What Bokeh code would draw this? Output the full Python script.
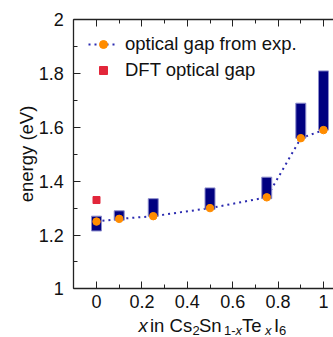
import math
from bokeh.plotting import figure
from bokeh.models import (ColumnDataSource, Range1d, LinearAxis, FixedTicker,
                          Legend, LegendItem, Label)
from bokeh.embed import file_html
from bokeh.resources import INLINE

# ---- data ----
x_comp = [0.0, 0.1, 0.25, 0.5, 0.75, 0.9, 1.0]
exp_gap = [1.25, 1.26, 1.27, 1.30, 1.34, 1.56, 1.59]
bar_bottom = [1.215, 1.255, 1.27, 1.295, 1.335, 1.56, 1.59]
bar_top = [1.27, 1.29, 1.335, 1.375, 1.415, 1.69, 1.81]
dft_x = [0.0]
dft_gap = [1.33]

x_ticks = [0.0, 0.2, 0.4, 0.6, 0.8, 1.0]
x_tick_labels = ["0", "0.2", "0.4", "0.6", "0.8", "1"]
x_minor = [-0.1, 0.1, 0.3, 0.5, 0.7, 0.9]
y_ticks = [1.0, 1.2, 1.4, 1.6, 1.8, 2.0]
y_tick_labels = ["1", "1.2", "1.4", "1.6", "1.8", "2"]
y_minor = [1.1, 1.3, 1.5, 1.7, 1.9]
x_lo, x_hi = -0.1, 1.1
y_lo, y_hi = 1.0, 2.0

FONT = "Liberation Sans"
FS = "18px"
FS_T = "18.5px"
FS_SUB = "13px"
INK = "#111111"
W, H = 333, 337
# pixel geometry of the axes box inside the canvas
ax_left, ax_top, ax_bottom, x0_px = 73.3, 19.3, 288.3, 96.0
px_per_x = (x0_px - ax_left) / (0 - x_lo)
px_per_y = (ax_bottom - ax_top) / (y_hi - y_lo)

src = ColumnDataSource(dict(x=x_comp, gap=exp_gap, bot=bar_bottom, top=bar_top))
dft = ColumnDataSource(dict(x=dft_x, gap=dft_gap))

# frame covers the whole canvas; axes are drawn at fixed locations
p = figure(width=W, height=H, output_backend="svg", toolbar_location=None,
           x_range=Range1d(-x0_px / px_per_x, (W - x0_px) / px_per_x),
           y_range=Range1d(y_lo - (H - ax_bottom) / px_per_y,
                           y_hi + ax_top / px_per_y),
           min_border=0, min_border_left=0, min_border_right=0,
           min_border_top=0, min_border_bottom=0)
p.outline_line_color = None
p.xgrid.visible = False
p.ygrid.visible = False
p.background_fill_color = "white"
p.border_fill_color = "white"

line_r = p.line("x", "gap", source=src, line_color="#2b2bb0", line_width=2,
                line_dash="2 4")
p.vbar(x="x", bottom="bot", top="top", width=0.044, source=src,
       fill_color="#000080", line_color="#8c8ccc", line_width=1)
dots_r = p.scatter("x", "gap", source=src, size=7.5, marker="circle",
                   fill_color="#ff8c00", line_color="#ff8c00")
dft_r = p.scatter("x", "gap", source=dft, size=7, marker="square",
                  fill_color="#e2263a", line_color="#e2263a")

def style_axis(ax):
    ax.axis_line_color = "#222222"
    ax.axis_line_width = 1.3
    ax.major_tick_in = 7
    ax.major_tick_out = 0
    ax.minor_tick_in = 4
    ax.minor_tick_out = 0
    ax.major_tick_line_color = "#222222"
    ax.minor_tick_line_color = "#222222"
    ax.major_label_text_font = FONT
    ax.major_label_text_font_size = FS
    ax.major_label_text_color = INK

xb = p.xaxis[0]
xb.ticker = FixedTicker(ticks=x_ticks, minor_ticks=x_minor)
xb.major_label_overrides = dict(zip(x_ticks, x_tick_labels))
style_axis(xb)
xb.major_label_standoff = 6
xb.fixed_location = y_lo
xb.bounds = (x_lo, x_hi)

yl = p.yaxis[0]
yl.ticker = FixedTicker(ticks=y_ticks, minor_ticks=y_minor)
yl.major_label_overrides = dict(zip(y_ticks, y_tick_labels))
style_axis(yl)
yl.major_label_standoff = 10
yl.fixed_location = x_lo
yl.bounds = (y_lo, y_hi)

xt = LinearAxis(ticker=FixedTicker(ticks=x_ticks, minor_ticks=x_minor))
style_axis(xt)
xt.major_label_overrides = {t: "" for t in x_ticks}
xt.fixed_location = y_hi
xt.bounds = (x_lo, x_hi)
p.add_layout(xt, "above")

# y-axis title
p.add_layout(Label(x=25.5, y=H - 153.5, x_units="screen", y_units="screen",
                   text="energy (eV)", angle=math.pi / 2, text_font=FONT,
                   text_font_size=FS_T, text_color=INK,
                   text_align="center", text_baseline="middle"))

# x-axis title built from pieces: italic x, subscripts
main_mid = 324.5
sub_mid = 329.5
pieces = [
    ("x", 138.0, "main", "italic"),
    ("in Cs", 149.5, "main", "normal"),
    ("2", 192.0, "sub", "normal"),
    ("Sn", 198.5, "main", "normal"),
    ("1-", 223.5, "sub", "normal"),
    ("x", 235.0, "sub", "italic"),
    ("Te", 241.5, "main", "normal"),
    ("x", 264.5, "sub", "italic"),
    ("I", 273.5, "main", "normal"),
    ("6", 278.5, "sub", "normal"),
]
for txt, px_, kind, style in pieces:
    mid = main_mid if kind == "main" else sub_mid
    p.add_layout(Label(x=px_, y=H - mid,
                       x_units="screen", y_units="screen", text=txt,
                       text_font=FONT,
                       text_font_size=FS_T if kind == "main" else FS_SUB,
                       text_font_style=style, text_color=INK,
                       text_align="left", text_baseline="middle"))

legend = Legend(items=[
    LegendItem(label="optical gap from exp.", renderers=[line_r, dots_r]),
    LegendItem(label="DFT optical gap", renderers=[dft_r]),
], location=(88, H - 81))
legend.glyph_width = 30
legend.glyph_height = 20
legend.label_standoff = 7
legend.spacing = 4
legend.padding = 0
legend.margin = 0
legend.border_line_color = None
legend.background_fill_alpha = 0
legend.label_text_font = FONT
legend.label_text_font_size = FS_T
legend.label_text_color = INK
p.add_layout(legend)

open("out.html", "w").write(file_html(p, INLINE))
